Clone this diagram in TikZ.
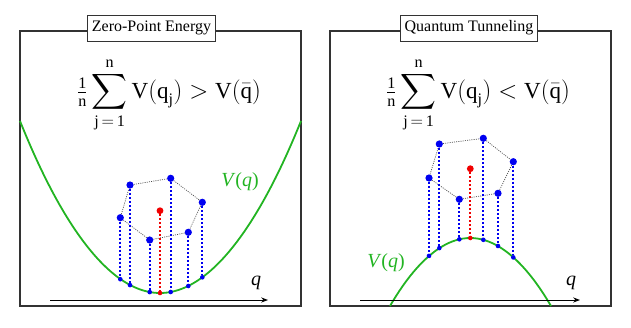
\documentclass[tikz,border=0pt]{standalone}
\usepackage{amsmath}
\usepackage{fontspec}
\setmainfont{Liberation Serif}
\definecolor{curv}{HTML}{22B422}
\definecolor{ptb}{HTML}{0000F0}
\definecolor{ptr}{HTML}{F00000}
\definecolor{frm}{HTML}{333333}
\usetikzlibrary{arrows.meta,positioning}
\tikzset{
  >={Stealth[length=2.4mm,width=1.8mm]},
  panel/.style={draw=frm,line width=1.4pt},
  ttl/.style={draw=frm,line width=1pt,fill=white,font=\fontsize{16}{18}\selectfont,inner xsep=4pt,minimum height=26pt},
  frml/.style={font=\fontsize{23}{26}\selectfont},
  vlab/.style={text=curv,font=\fontsize{20}{22}\selectfont},
  qlab/.style={font=\fontsize{20}{22}\selectfont},
  bdot/.style={circle,fill=ptb,inner sep=0pt,minimum size=7.2pt},
  sdot/.style={circle,fill=ptb,inner sep=0pt,minimum size=4.6pt},
  rdot/.style={bdot,fill=ptr,minimum size=6.8pt},
  rsdot/.style={sdot,fill=ptr},
  drop/.style={draw=ptb,line width=2pt,dash pattern=on 2pt off 2pt},
  rdrop/.style={drop,draw=ptr},
  ring/.style={draw=black!70,line width=0.7pt,dash pattern=on 1pt off 1.2pt},
  curve/.style={draw=curv,line width=1.8pt},
  axis/.style={->,line width=0.9pt},
}
\newcommand{\avgpot}[1]{$\tfrac{\text{1}}{\text{n}}\displaystyle\sum_{\text{j}\,=\,\text{1}}^{\text{n}}\text{V}(\text{q}_{\text{j}})#1\text{V}(\bar{\text{q}})$}
\begin{document}
\begin{tikzpicture}[x=1pt,y=-1pt]
\useasboundingbox (0,0) rectangle (631,327);

% zero-point energy
\draw[panel] (20,31) rectangle (301,306);
\draw[curve] (20,121) parabola bend (160,293) (301,121);
\coordinate (za0) at (50,300);
\coordinate (za1) at (268,300);
\draw[axis] (za0) -- (za1);
\node[qlab] (zq) at (256,283) {\textit{q}};
\node[vlab] (zv) at (240,182) {\textit{V}(\textit{q})};
\node[frml] (zf) at (169,95) {\avgpot{>}};
\node[ttl] (zt) at (151.5,28) {Zero-Point Energy};

\node[bdot] (zp1) at (130,185) {};
\node[bdot] (zp2) at (170.7,178.3) {};
\node[bdot] (zp3) at (202.3,202.3) {};
\node[bdot] (zp4) at (188.3,232.3) {};
\node[bdot] (zp5) at (149.7,240) {};
\node[bdot] (zp6) at (120.3,217.7) {};
\node[rdot] (zpm) at (160,210.7) {};
\node[sdot] (zc1) at (130,285.1) {};
\node[sdot] (zc2) at (170.7,292) {};
\node[sdot] (zc3) at (202.3,277.3) {};
\node[sdot] (zc4) at (188.3,286) {};
\node[sdot] (zc5) at (149.7,292.1) {};
\node[sdot] (zc6) at (120.3,279.2) {};
\node[rsdot] (zcm) at (160,293) {};
\draw[ring] (zp1) -- (zp2) -- (zp3) -- (zp4) -- (zp5) -- (zp6) -- (zp1);
\foreach \i in {1,...,6}
  \draw[drop] (zp\i) -- (zc\i);
\draw[rdrop] (zpm) -- (zcm);

% quantum tunneling
\draw[panel] (330,31) rectangle (611,306);
\draw[curve] (390,306) parabola bend (470.3,238) (551,306);
\coordinate (qa0) at (360,300);
\coordinate (qa1) at (580,300);
\draw[axis] (qa0) -- (qa1);
\node[qlab] (qq) at (571,283) {\textit{q}};
\node[vlab] (qv) at (386,263) {\textit{V}(\textit{q})};
\node[frml] (qf) at (478,95) {\avgpot{<}};
\node[ttl] (qt) at (469,28) {Quantum Tunneling};

\node[bdot] (qp1) at (439.3,144) {};
\node[bdot] (qp2) at (483.3,138.3) {};
\node[bdot] (qp3) at (513.3,161.7) {};
\node[bdot] (qp4) at (498,193.3) {};
\node[bdot] (qp5) at (459.3,199.3) {};
\node[bdot] (qp6) at (429,178) {};
\node[rdot] (qpm) at (470.3,168.7) {};
\node[sdot] (qc1) at (439.3,248.1) {};
\node[sdot] (qc2) at (483.3,239.8) {};
\node[sdot] (qc3) at (513.3,257.4) {};
\node[sdot] (qc4) at (498,246) {};
\node[sdot] (qc5) at (459.3,239.3) {};
\node[sdot] (qc6) at (429,255.9) {};
\node[rsdot] (qcm) at (470.3,238) {};
\draw[ring] (qp1) -- (qp2) -- (qp3) -- (qp4) -- (qp5) -- (qp6) -- (qp1);
\foreach \i in {1,...,6}
  \draw[drop] (qp\i) -- (qc\i);
\draw[rdrop] (qpm) -- (qcm);
\end{tikzpicture}
\end{document}
